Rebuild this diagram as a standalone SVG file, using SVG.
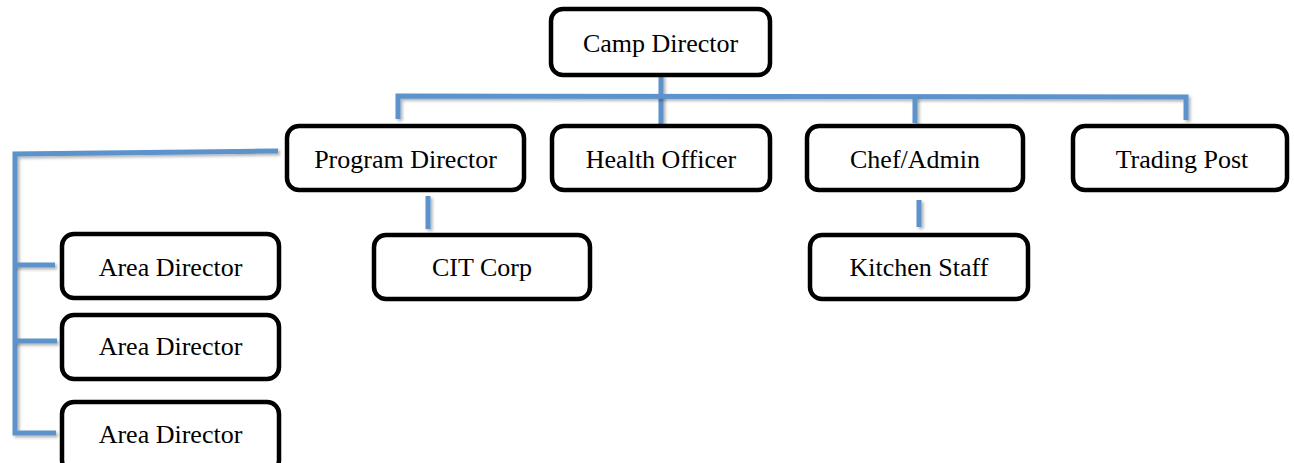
<svg xmlns="http://www.w3.org/2000/svg" width="1294" height="463" viewBox="0 0 1294 463">
<defs>
<filter id="sh" filterUnits="userSpaceOnUse" x="0" y="0" width="1294" height="463">
<feDropShadow dx="2" dy="2" stdDeviation="1.5" flood-color="#000" flood-opacity="0.3"/>
</filter>
</defs>
<style>
.box{fill:#fff;stroke:#000;stroke-width:4.5}
.lbl{font-family:"Liberation Serif","Times New Roman",serif;font-size:26px;fill:#000;text-anchor:middle}
.con{fill:none;stroke:#5B93CC;stroke-width:5;filter:url(#sh)}
</style>
<rect width="1294" height="463" fill="#fff"/>
<g id="connectors">
<path class="con" d="M661 75 V125"/>
<path class="con" d="M398 119 V96 L1186 97 V120"/>
<path class="con" d="M915 97 V123"/>
<path class="con" d="M278 151 L15 154 V433 H56"/>
<path class="con" d="M15 265 H55"/>
<path class="con" d="M15 341 H57"/>
<path class="con" d="M428 196 V229"/>
<path class="con" d="M919 200 V227"/>
</g>
<g id="camp-director"><rect class="box" x="551" y="9" width="219" height="66" rx="12"/><text class="lbl" x="660.5" y="52">Camp Director</text></g>
<g id="program-director"><rect class="box" x="287" y="126" width="237" height="64" rx="12"/><text class="lbl" x="405.5" y="168">Program Director</text></g>
<g id="health-officer"><rect class="box" x="552" y="126" width="218" height="64" rx="12"/><text class="lbl" x="661" y="168">Health Officer</text></g>
<g id="chef-admin"><rect class="box" x="807" y="126" width="216" height="64" rx="12"/><text class="lbl" x="915" y="168">Chef/Admin</text></g>
<g id="trading-post"><rect class="box" x="1073" y="126" width="214" height="64" rx="12"/><text class="lbl" x="1182" y="168">Trading Post</text></g>
<g id="area-director-1"><rect class="box" x="62" y="234" width="217" height="64" rx="12"/><text class="lbl" x="170.5" y="276">Area Director</text></g>
<g id="area-director-2"><rect class="box" x="62" y="315" width="217" height="64" rx="12"/><text class="lbl" x="170.5" y="355">Area Director</text></g>
<g id="area-director-3"><rect class="box" x="62" y="402" width="217" height="70" rx="12"/><text class="lbl" x="170.5" y="443">Area Director</text></g>
<g id="cit-corp"><rect class="box" x="374" y="235" width="216" height="64" rx="12"/><text class="lbl" x="482" y="276">CIT Corp</text></g>
<g id="kitchen-staff"><rect class="box" x="810" y="235" width="218" height="64" rx="12"/><text class="lbl" x="919" y="276">Kitchen Staff</text></g>
</svg>
